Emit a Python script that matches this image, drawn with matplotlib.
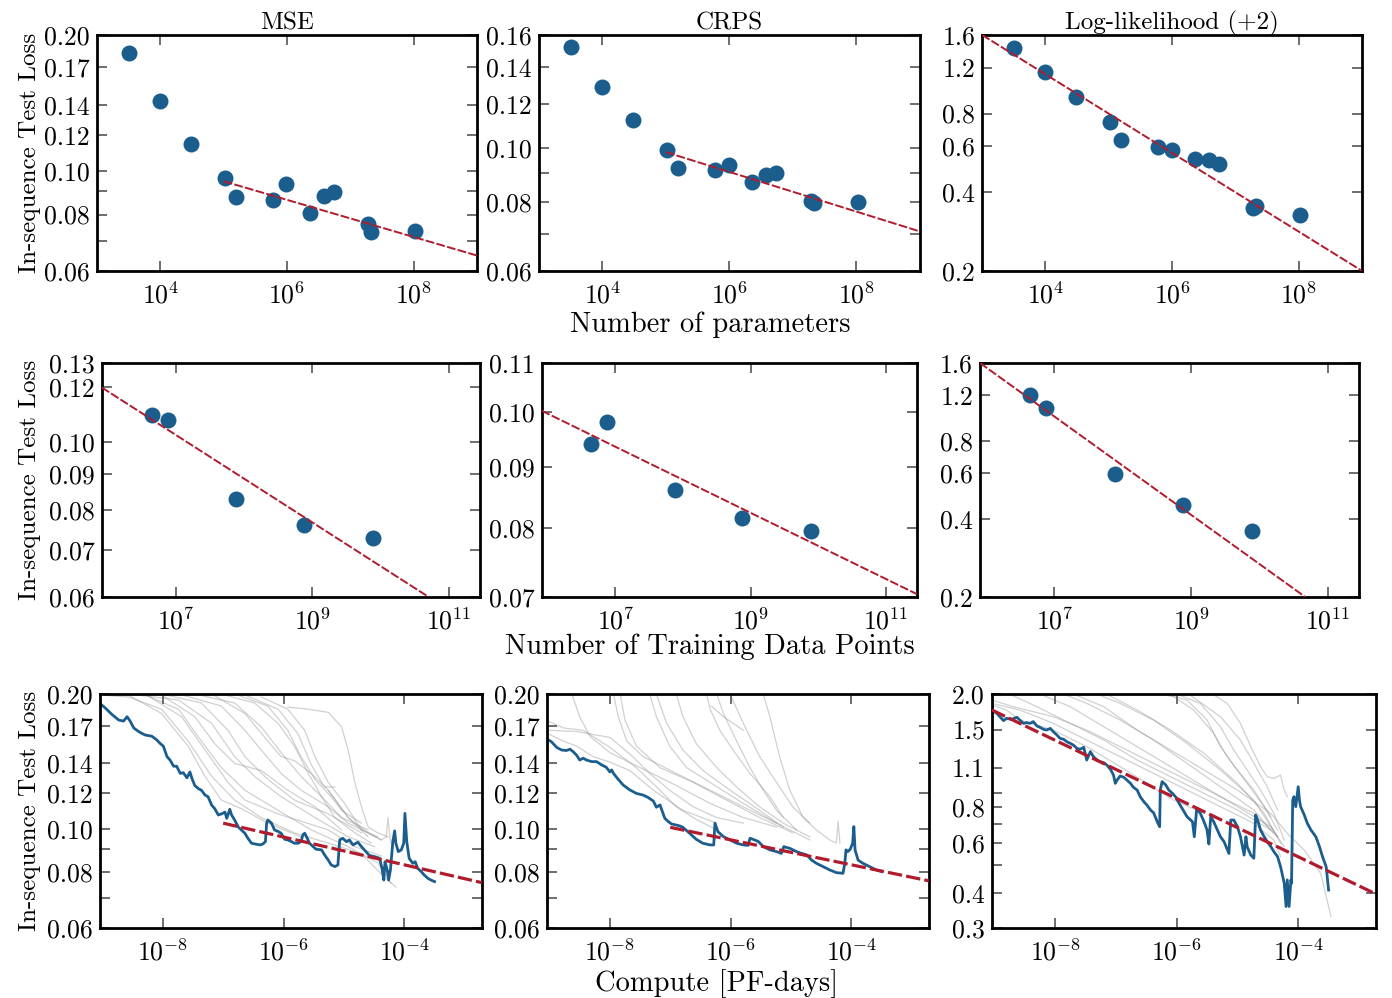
import numpy as np
import matplotlib
matplotlib.use("Agg")
import matplotlib.pyplot as plt
from matplotlib.ticker import NullLocator

plt.rcParams["font.family"] = "serif"
plt.rcParams["font.serif"] = ["cmr10"]
plt.rcParams["mathtext.fontset"] = "cm"
plt.rcParams["axes.unicode_minus"] = False

BLUE = "#1b5e8e"
RED = "#b01c2e"
GRAY = "#8c8c8c"

# ---- row 1: loss vs number of parameters ----
n_params = [3.2e3, 1.0e4, 3.0e4, 1.05e5, 1.55e5, 5.9e5, 9.8e5, 2.3e6, 3.8e6, 5.5e6, 1.9e7, 2.15e7, 1.05e8]
mse_params = [0.182, 0.143, 0.1145, 0.0964, 0.0876, 0.0862, 0.0934, 0.0806, 0.088, 0.0897, 0.0762, 0.0731, 0.0737]
crps_params = [0.152, 0.129, 0.1124, 0.099, 0.092, 0.0914, 0.0933, 0.0869, 0.0893, 0.0902, 0.0803, 0.0797, 0.080]
ll_params = [1.43, 1.15, 0.923, 0.741, 0.634, 0.595, 0.581, 0.537, 0.532, 0.514, 0.349, 0.356, 0.328]

# fitted power laws (end points of the dashed lines)
fit_params_mse = ([1e5, 1e9], [0.0948, 0.0649])
fit_params_crps = ([1e5, 1e9], [0.0983, 0.0707])
fit_params_ll = ([1e3, 1e9], [1.6, 0.2])

# ---- row 2: loss vs number of training data points ----
n_data = [4.4e6, 7.5e6, 7.7e7, 7.6e8, 7.8e9]
mse_data = [0.1096, 0.1076, 0.0829, 0.0760, 0.0730]
crps_data = [0.0941, 0.0981, 0.0860, 0.0816, 0.0795]
ll_data = [1.20, 1.07, 0.597, 0.451, 0.359]

fit_data_mse = ([10**5.91, 10**10.706], [0.1199, 0.06])
fit_data_crps = ([10**5.91, 10**11.46], [0.1003, 0.0704])
fit_data_ll = ([10**5.91, 10**10.67], [1.6, 0.2])

# ---- row 3: loss vs compute (log10 PF-days) ----
mse_best_logc = [-9.03, -8.95, -8.84, -8.73, -8.65, -8.59, -8.54, -8.48, -8.43, -8.37, -8.29, -8.18, -8.10, -8.04,
                 -7.99, -7.93, -7.88, -7.82, -7.77, -7.71, -7.66, -7.60, -7.55, -7.52, -7.47, -7.41, -7.36, -7.30,
                 -7.25, -7.19, -7.14, -7.08, -7.03, -6.97, -6.94, -6.89, -6.86, -6.81, -6.75, -6.70, -6.64, -6.59,
                 -6.53, -6.48, -6.39, -6.34, -6.30, -6.28, -6.26, -6.20, -6.15, -6.09, -6.04, -5.98, -5.93, -5.87,
                 -5.82, -5.76, -5.71, -5.68, -5.65, -5.62, -5.57, -5.51, -5.46, -5.37, -5.32, -5.26, -5.21, -5.15,
                 -5.10, -5.07, -5.02, -4.96, -4.91, -4.85, -4.77, -4.71, -4.63, -4.58, -4.49, -4.41, -4.37, -4.34,
                 -4.32, -4.28, -4.26, -4.23, -4.19, -4.16, -4.14, -4.10, -4.05, -4.01, -3.99, -3.96, -3.92, -3.86,
                 -3.82, -3.78, -3.72, -3.67, -3.61, -3.56, -3.50]
mse_best_loss = [0.190, 0.186, 0.180, 0.175, 0.174, 0.178, 0.174, 0.168, 0.166, 0.164, 0.162, 0.161, 0.158, 0.155,
                 0.153, 0.145, 0.1425, 0.138, 0.138, 0.133, 0.1335, 0.130, 0.134, 0.130, 0.125, 0.123, 0.122, 0.119,
                 0.118, 0.113, 0.111, 0.1074, 0.108, 0.109, 0.1056, 0.1106, 0.1074, 0.1047, 0.101, 0.0995, 0.0978, 0.0953,
                 0.0929, 0.0926, 0.0921, 0.0926, 0.0937, 0.103, 0.1047, 0.103, 0.0995, 0.0987, 0.0978, 0.0948, 0.0945, 0.0937,
                 0.0929, 0.0929, 0.0937, 0.097, 0.0978, 0.0961, 0.0929, 0.0913, 0.0901, 0.0898, 0.0875, 0.0852, 0.0831, 0.0824,
                 0.0831, 0.0945, 0.0953, 0.0937, 0.0945, 0.0921, 0.0934, 0.0913, 0.0888, 0.0873, 0.0867, 0.0860, 0.0817, 0.0769,
                 0.0845, 0.0806, 0.0769, 0.0810, 0.0937, 0.099, 0.0929, 0.0890, 0.0898, 0.0929, 0.1083, 0.0937, 0.0860, 0.0838,
                 0.0845, 0.0817, 0.0803, 0.0789, 0.0776, 0.0769, 0.0763]

crps_best_logc = [-9.02, -8.97, -8.88, -8.80, -8.72, -8.66, -8.61, -8.55, -8.50, -8.44, -8.39, -8.30, -8.22, -8.14,
                  -8.06, -8.00, -7.97, -7.94, -7.89, -7.78, -7.67, -7.56, -7.45, -7.37, -7.28, -7.23, -7.17, -7.14,
                  -7.09, -7.03, -6.98, -6.90, -6.84, -6.79, -6.68, -6.57, -6.46, -6.34, -6.28, -6.26, -6.21, -6.12,
                  -6.01, -5.90, -5.79, -5.71, -5.68, -5.63, -5.54, -5.46, -5.35, -5.24, -5.16, -5.12, -5.02, -4.91,
                  -4.83, -4.74, -4.66, -4.58, -4.47, -4.36, -4.25, -4.14, -4.11, -4.09, -4.06, -4.02, -3.98, -3.96,
                  -3.94, -3.89, -3.81, -3.70, -3.59, -3.50]
crps_best_loss = [0.158, 0.1566, 0.152, 0.150, 0.1496, 0.1506, 0.1488, 0.146, 0.1425, 0.1438, 0.1425, 0.1413, 0.1413, 0.139,
                  0.1373, 0.134, 0.1354, 0.133, 0.1304, 0.1253, 0.1222, 0.120, 0.119, 0.1176, 0.1154, 0.1118, 0.1131, 0.1102,
                  0.1056, 0.1038, 0.1026, 0.102, 0.1015, 0.1008, 0.0978, 0.0948, 0.0929, 0.0921, 0.0921, 0.103, 0.0986, 0.0961,
                  0.0945, 0.0929, 0.0921, 0.0919, 0.0953, 0.0948, 0.0937, 0.0913, 0.0898, 0.089, 0.0882, 0.0913, 0.0905, 0.0890,
                  0.0882, 0.0875, 0.0852, 0.0838, 0.0824, 0.081, 0.0799, 0.0796, 0.0838, 0.0898, 0.089, 0.0901, 0.0929, 0.1012,
                  0.0898, 0.0852, 0.0838, 0.0824, 0.081, 0.0803]

ll_best_logc = [-9.04, -8.96, -8.91, -8.85, -8.80, -8.72, -8.63, -8.58, -8.52, -8.47, -8.41, -8.36, -8.30, -8.25,
                -8.19, -8.14, -8.08, -8.03, -7.97, -7.92, -7.86, -7.81, -7.75, -7.70, -7.64, -7.59, -7.53, -7.50,
                -7.48, -7.42, -7.37, -7.31, -7.26, -7.20, -7.15, -7.09, -7.04, -7.01, -6.98, -6.93, -6.87, -6.82,
                -6.76, -6.71, -6.65, -6.60, -6.54, -6.49, -6.43, -6.40, -6.38, -6.32, -6.28, -6.27, -6.24, -6.18,
                -6.13, -6.07, -6.02, -5.96, -5.91, -5.83, -5.74, -5.71, -5.67, -5.61, -5.55, -5.50, -5.47, -5.44,
                -5.39, -5.33, -5.28, -5.22, -5.14, -5.11, -5.06, -5.00, -4.95, -4.89, -4.86, -4.84, -4.78, -4.73,
                -4.70, -4.66, -4.62, -4.56, -4.51, -4.45, -4.40, -4.34, -4.29, -4.23, -4.20, -4.18, -4.15, -4.12,
                -4.11, -4.09, -4.07, -4.04, -4.00, -3.98, -3.96, -3.90, -3.85, -3.79, -3.71, -3.65, -3.60, -3.54, -3.50]
ll_best_loss = [1.757, 1.71, 1.665, 1.612, 1.642, 1.629, 1.656, 1.62, 1.577, 1.586, 1.577, 1.599, 1.544, 1.527,
                1.502, 1.494, 1.514, 1.474, 1.435, 1.397, 1.386, 1.36, 1.341, 1.323, 1.288, 1.278, 1.299, 1.221,
                1.172, 1.254, 1.204, 1.172, 1.156, 1.147, 1.126, 1.087, 1.038, 0.970, 0.997, 1.030, 1.019, 0.997,
                0.970, 0.939, 0.919, 0.871, 0.836, 0.814, 0.782, 0.771, 0.765, 0.711, 0.683, 0.919, 0.984, 0.958,
                0.919, 0.895, 0.871, 0.825, 0.792, 0.741, 0.711, 0.630, 0.792, 0.761, 0.711, 0.665, 0.594, 0.741,
                0.711, 0.665, 0.630, 0.605, 0.550, 0.721, 0.721, 0.683, 0.630, 0.543, 0.630, 0.581, 0.543, 0.529,
                0.751, 0.711, 0.665, 0.630, 0.605, 0.581, 0.558, 0.536, 0.494, 0.432, 0.358, 0.444, 0.358, 0.444,
                0.432, 0.848, 0.871, 0.803, 0.944, 0.848, 0.803, 0.751, 0.702, 0.665, 0.630, 0.581, 0.536, 0.494, 0.409]

fit_compute_mse = ([1e-7, 10**-2.72], [0.103, 0.0759])
fit_compute_crps = ([1e-7, 10**-2.72], [0.1008, 0.0766])
fit_compute_ll = ([10**-9.04, 10**-2.72], [1.757, 0.396])

# individual (non-optimal) training runs, faint gray
mse_runs_logc = [
    [-9.03, -8.57, -8.02, -7.58, -7.19, -6.81, -6.37, -5.82, -5.26, -4.71, -4.33, -4.14],
    [-9.03, -8.29, -7.74, -7.36, -7.03, -6.64, -6.09, -5.54, -4.93, -4.44, -4.22],
    [-8.57, -7.74, -7.19, -6.81, -6.48, -6.04, -5.48, -4.93, -4.49],
    [-8.02, -7.36, -6.92, -6.64, -6.26, -5.82, -5.26, -4.71],
    [-7.74, -7.03, -6.64, -6.37, -6.04, -5.71, -5.26, -4.93, -4.44],
    [-7.47, -6.81, -6.37, -6.04, -5.71, -5.37, -5.04, -4.60],
    [-7.03, -6.48, -6.09, -5.82, -5.59, -5.37, -5.15, -4.82, -4.55],
    [-6.81, -6.26, -5.93, -5.71, -5.48, -5.21, -5.04, -4.71],
    [-6.64, -6.09, -5.76, -5.54, -5.32, -5.15],
    [-6.37, -5.93, -5.65, -5.48, -5.26, -4.99, -4.71, -4.38],
    [-5.93, -5.59, -5.26, -5.04, -4.93, -4.82, -4.71, -4.60, -4.44, -4.27],
    [-8.02, -7.47, -7.14, -6.81, -6.37, -5.93, -5.48, -5.04],
    [-8.57, -8.02, -7.58, -7.30, -7.03, -6.70, -6.26, -5.71],
    [-7.19, -6.64, -6.26, -6.04, -5.82, -5.54, -5.26, -4.93, -4.60],
    [-8.29, -7.69, -7.30, -6.92, -6.64, -6.09, -5.26, -4.82, -4.38],
    [-5.26, -4.93, -4.60, -4.38, -4.30, -4.27, -4.24, -4.22],
]
mse_runs_loss = [
    [0.199, 0.197, 0.185, 0.157, 0.131, 0.116, 0.106, 0.098, 0.093, 0.088, 0.078, 0.0742],
    [0.20, 0.199, 0.185, 0.157, 0.137, 0.122, 0.110, 0.0995, 0.0913, 0.084, 0.0756],
    [0.20, 0.194, 0.172, 0.145, 0.131, 0.118, 0.106, 0.096, 0.0913],
    [0.20, 0.191, 0.166, 0.145, 0.129, 0.116, 0.108, 0.098],
    [0.20, 0.188, 0.166, 0.150, 0.133, 0.122, 0.112, 0.103, 0.096],
    [0.20, 0.191, 0.169, 0.148, 0.131, 0.118, 0.106, 0.0995],
    [0.20, 0.191, 0.172, 0.153, 0.133, 0.118, 0.106, 0.098, 0.093],
    [0.20, 0.188, 0.166, 0.145, 0.129, 0.118, 0.110, 0.103],
    [0.199, 0.185, 0.163, 0.139, 0.124, 0.124],
    [0.197, 0.185, 0.166, 0.145, 0.127, 0.114, 0.0995, 0.0945],
    [0.187, 0.185, 0.182, 0.169, 0.150, 0.127, 0.112, 0.101, 0.098, 0.096],
    [0.199, 0.178, 0.155, 0.140, 0.135, 0.122, 0.112, 0.0995],
    [0.199, 0.181, 0.153, 0.131, 0.116, 0.111, 0.103, 0.096],
    [0.20, 0.181, 0.157, 0.145, 0.142, 0.133, 0.122, 0.106, 0.096],
    [0.20, 0.178, 0.150, 0.127, 0.116, 0.108, 0.0995, 0.0913, 0.087],
    [0.122, 0.106, 0.098, 0.0945, 0.096, 0.106, 0.096, 0.093],
]

crps_runs_logc = [
    [-9.02, -8.77, -8.44, -8.00, -7.56, -7.17, -6.90, -6.57, -6.23],
    [-9.02, -8.55, -8.00, -7.67, -7.34, -7.01, -6.62, -6.23, -5.79],
    [-8.63, -8.50, -8.33, -8.00, -7.45, -6.90, -6.34, -5.79, -5.24],
    [-7.94, -7.86, -7.72, -7.45, -6.90, -6.34, -5.79, -5.24],
    [-7.83, -7.75, -7.56, -7.17, -6.62, -6.07, -5.52, -4.97],
    [-7.34, -7.23, -7.01, -6.73, -6.34, -5.79, -5.24, -4.69],
    [-7.23, -7.06, -6.79, -6.46, -6.01, -5.52, -5.13],
    [-6.90, -6.79, -6.57, -6.23, -5.90, -5.52, -5.13, -4.69],
    [-6.40, -6.34, -6.18, -5.96, -5.68, -5.35, -5.13],
    [-6.32, -6.12, -5.79],
    [-6.23, -6.12, -5.90, -5.68, -5.46, -5.24, -4.91],
    [-5.46, -5.35, -5.19, -5.02, -4.80, -4.58, -4.36, -4.25, -4.22, -4.19],
    [-6.01, -5.79, -5.52, -5.24, -4.97, -4.69],
    [-9.02, -8.77, -8.55, -8.28, -8.00, -7.67, -7.28, -6.79, -6.23],
]
crps_runs_loss = [
    [0.174, 0.168, 0.166, 0.152, 0.137, 0.122, 0.112, 0.105, 0.0995],
    [0.166, 0.165, 0.160, 0.147, 0.133, 0.122, 0.112, 0.106, 0.103],
    [0.20, 0.178, 0.161, 0.148, 0.136, 0.125, 0.114, 0.106, 0.101],
    [0.20, 0.178, 0.157, 0.145, 0.133, 0.122, 0.112, 0.103],
    [0.20, 0.175, 0.153, 0.137, 0.127, 0.116, 0.106, 0.098],
    [0.20, 0.178, 0.153, 0.137, 0.127, 0.114, 0.103, 0.0945],
    [0.20, 0.172, 0.150, 0.135, 0.122, 0.110, 0.101],
    [0.20, 0.178, 0.155, 0.137, 0.124, 0.112, 0.103, 0.096],
    [0.20, 0.185, 0.166, 0.150, 0.133, 0.118, 0.106],
    [0.188, 0.178, 0.166],
    [0.20, 0.181, 0.157, 0.137, 0.122, 0.110, 0.0995],
    [0.20, 0.178, 0.145, 0.122, 0.106, 0.0995, 0.0945, 0.093, 0.104, 0.093],
    [0.20, 0.172, 0.145, 0.127, 0.112, 0.103],
    [0.163, 0.157, 0.153, 0.145, 0.141, 0.135, 0.122, 0.110, 0.103],
]

ll_runs_logc = [
    [-9.04, -8.58, -8.03, -7.48, -6.93, -6.38, -5.83, -5.28, -4.73, -4.40, -4.29],
    [-9.04, -8.69, -8.03, -7.48, -6.93, -6.38, -5.83, -5.28, -4.73, -4.34],
    [-8.80, -8.30, -7.75, -7.20, -6.65, -6.10, -5.55, -5.00, -4.45],
    [-8.30, -7.75, -7.20, -6.65, -6.10, -5.55, -5.00, -4.45, -4.23],
    [-7.92, -7.48, -6.93, -6.38, -5.83, -5.28, -4.73, -4.40],
    [-7.37, -6.93, -6.38, -5.83, -5.28, -4.73, -4.34],
    [-7.20, -6.65, -6.10, -5.55, -5.00, -4.56, -4.29],
    [-6.38, -6.05, -5.72, -5.39, -5.17, -4.84, -4.56, -4.34],
    [-6.27, -5.83, -5.50, -5.28, -5.00, -4.73, -4.45],
    [-5.44, -5.17, -4.95, -4.78, -4.62, -4.51, -4.40, -4.29, -4.26, -4.23, -4.18],
    [-6.05, -5.61, -5.28, -5.06, -4.84, -4.62, -4.40, -4.23],
    [-5.83, -5.28, -4.95, -4.73, -4.51, -4.34],
    [-7.75, -7.20, -6.65, -6.10, -5.55, -5.00, -4.45, -4.18, -3.90, -3.63, -3.46],
    [-9.04, -8.80, -8.58, -8.03, -7.48, -6.93, -6.49, -6.05, -5.55],
]
ll_runs_loss = [
    [1.854, 1.757, 1.577, 1.378, 1.204, 1.052, 0.919, 0.803, 0.702, 0.613, 0.536],
    [1.905, 1.805, 1.665, 1.494, 1.306, 1.141, 0.997, 0.871, 0.761, 0.630],
    [2.02, 1.805, 1.577, 1.378, 1.172, 1.024, 0.895, 0.782, 0.665],
    [2.02, 1.805, 1.535, 1.306, 1.111, 0.944, 0.803, 0.683, 0.581],
    [2.02, 1.854, 1.62, 1.378, 1.141, 0.944, 0.782, 0.647],
    [2.02, 1.854, 1.62, 1.341, 1.081, 0.848, 0.630],
    [2.02, 1.757, 1.494, 1.237, 0.970, 0.761, 0.597],
    [2.02, 1.957, 1.757, 1.455, 1.204, 0.970, 0.803, 0.665],
    [2.02, 1.905, 1.62, 1.306, 1.081, 0.919, 0.741],
    [2.02, 1.854, 1.577, 1.306, 1.111, 1.024, 1.010, 1.038, 0.970, 0.919, 0.871],
    [2.02, 1.854, 1.535, 1.271, 1.081, 0.919, 0.761, 0.613],
    [2.02, 1.665, 1.378, 1.141, 0.944, 0.782],
    [2.02, 1.805, 1.494, 1.271, 1.081, 0.919, 0.761, 0.647, 0.565, 0.468, 0.330],
    [1.829, 1.757, 1.62, 1.494, 1.306, 1.111, 0.970, 0.848, 0.761],
]

# tick sets
yt_mse = [0.06, 0.07, 0.08, 0.09, 0.10, 0.12, 0.14, 0.17, 0.20]
yl_mse = ["0.06", "", "0.08", "", "0.10", "0.12", "0.14", "0.17", "0.20"]
yt_crps = [0.06, 0.07, 0.08, 0.09, 0.10, 0.12, 0.14, 0.16]
yl_crps = ["0.06", "", "0.08", "", "0.10", "0.12", "0.14", "0.16"]
yt_ll = [0.2, 0.4, 0.6, 0.8, 1.2, 1.6]
yl_ll = ["0.2", "0.4", "0.6", "0.8", "1.2", "1.6"]
yt_mse_data = [0.06, 0.07, 0.08, 0.09, 0.10, 0.12, 0.13]
yl_mse_data = ["0.06", "0.07", "0.08", "0.09", "0.10", "0.12", "0.13"]
yt_crps_data = [0.07, 0.08, 0.09, 0.10, 0.11]
yl_crps_data = ["0.07", "0.08", "0.09", "0.10", "0.11"]
yt_ll_comp = [0.3, 0.4, 0.5, 0.6, 0.7, 0.8, 0.9, 1.1, 1.5, 2.0]
yl_ll_comp = ["0.3", "0.4", "", "0.6", "", "0.8", "", "1.1", "1.5", "2.0"]

xt_params = [1e4, 1e6, 1e8]
xl_params = [r"$10^{4}$", r"$10^{6}$", r"$10^{8}$"]
xt_data = [1e7, 1e9, 1e11]
xl_data = [r"$10^{7}$", r"$10^{9}$", r"$10^{11}$"]
xt_comp = [1e-8, 1e-6, 1e-4]
xl_comp = [r"$10^{-8}$", r"$10^{-6}$", r"$10^{-4}$"]

fig = plt.figure(figsize=(13.92, 9.98), dpi=100)

rects = [
    [[0.0697, 0.7285, 0.2730, 0.2365], [0.3872, 0.7285, 0.2737, 0.2365], [0.7055, 0.7285, 0.2730, 0.2365]],
    [[0.0731, 0.4018, 0.2718, 0.2345], [0.3892, 0.4018, 0.2694, 0.2345], [0.7040, 0.4018, 0.2725, 0.2345]],
    [[0.0718, 0.0698, 0.2742, 0.2348], [0.3930, 0.0698, 0.2742, 0.2348], [0.7126, 0.0698, 0.2759, 0.2348]],
]


def style(ax, xlim, ylim, xt, xl, yt, yl):
    ax.set_xscale("log")
    ax.set_yscale("log")
    ax.set_xlim(*xlim)
    ax.set_ylim(*ylim)
    ax.set_xticks(xt)
    ax.set_xticklabels(xl)
    ax.set_yticks(yt)
    ax.set_yticklabels(yl)
    ax.xaxis.set_minor_locator(NullLocator())
    ax.yaxis.set_minor_locator(NullLocator())
    ax.tick_params(which="major", direction="in", top=True, right=True, length=7, width=1.2,
                   color="#555555", labelsize=18.5)
    ax.tick_params(axis="x", pad=8)
    ax.tick_params(axis="y", pad=5)
    for s in ax.spines.values():
        s.set_linewidth(2.0)
        s.set_color("black")


def scatter_panel(ax, x, y, fit):
    ax.plot(x, y, "o", color=BLUE, markersize=11.5, markeredgewidth=0, zorder=2)
    ax.plot(fit[0], fit[1], color=RED, lw=1.4, dashes=(4.5, 1.2), zorder=3)


def compute_panel(ax, runs_logc, runs_loss, best_logc, best_loss, fit):
    for lc, lo in zip(runs_logc, runs_loss):
        ax.plot(10 ** np.array(lc), lo, color=GRAY, lw=0.9, alpha=0.4, zorder=1)
    ax.plot(10 ** np.array(best_logc), best_loss, color=BLUE, lw=2.0, zorder=2)
    ax.plot(fit[0], fit[1], color=RED, lw=2.3, dashes=(4.5, 1.3), zorder=3)


# row 1
ax = fig.add_axes(rects[0][0])
scatter_panel(ax, n_params, mse_params, fit_params_mse)
style(ax, (1e3, 1e9), (0.06, 0.20), xt_params, xl_params, yt_mse, yl_mse)
ax.set_title("MSE", fontsize=18, pad=4)

ax = fig.add_axes(rects[0][1])
scatter_panel(ax, n_params, crps_params, fit_params_crps)
style(ax, (1e3, 1e9), (0.06, 0.16), xt_params, xl_params, yt_crps, yl_crps)
ax.set_title("CRPS", fontsize=18, pad=4)

ax = fig.add_axes(rects[0][2])
scatter_panel(ax, n_params, ll_params, fit_params_ll)
style(ax, (1e3, 1e9), (0.2, 1.6), xt_params, xl_params, yt_ll, yl_ll)
ax.set_title("Log-likelihood (+2)", fontsize=18, pad=4)

# row 2
xlim_data = (10**5.91, 10**11.46)
ax = fig.add_axes(rects[1][0])
scatter_panel(ax, n_data, mse_data, fit_data_mse)
style(ax, xlim_data, (0.06, 0.13), xt_data, xl_data, yt_mse_data, yl_mse_data)

ax = fig.add_axes(rects[1][1])
scatter_panel(ax, n_data, crps_data, fit_data_crps)
style(ax, xlim_data, (0.07, 0.11), xt_data, xl_data, yt_crps_data, yl_crps_data)

ax = fig.add_axes(rects[1][2])
scatter_panel(ax, n_data, ll_data, fit_data_ll)
style(ax, xlim_data, (0.2, 1.6), xt_data, xl_data, yt_ll, yl_ll)

# row 3
xlim_comp = (10**-9.04, 10**-2.72)
ax = fig.add_axes(rects[2][0])
compute_panel(ax, mse_runs_logc, mse_runs_loss, mse_best_logc, mse_best_loss, fit_compute_mse)
style(ax, xlim_comp, (0.06, 0.20), xt_comp, xl_comp, yt_mse, yl_mse)

ax = fig.add_axes(rects[2][1])
compute_panel(ax, crps_runs_logc, crps_runs_loss, crps_best_logc, crps_best_loss, fit_compute_crps)
style(ax, xlim_comp, (0.06, 0.20), xt_comp, xl_comp, yt_mse, yl_mse)

ax = fig.add_axes(rects[2][2])
compute_panel(ax, ll_runs_logc, ll_runs_loss, ll_best_logc, ll_best_loss, fit_compute_ll)
style(ax, xlim_comp, (0.3, 2.0), xt_comp, xl_comp, yt_ll_comp, yl_ll_comp)

# shared labels
for yc in [0.8467, 0.5190, 0.1872]:
    fig.text(0.0215, yc, "In-sequence Test Loss", rotation=90, ha="center", va="center", fontsize=18)
fig.text(0.510, 1 - 325 / 998, "Number of parameters", ha="center", va="center", fontsize=20.5)
fig.text(0.510, 1 - 647 / 998, "Number of Training Data Points", ha="center", va="center", fontsize=20.5)
fig.text(0.515, 1 - 984 / 998, "Compute [PF-days]", ha="center", va="center", fontsize=20.5)

fig.savefig("out.png", dpi=100)
